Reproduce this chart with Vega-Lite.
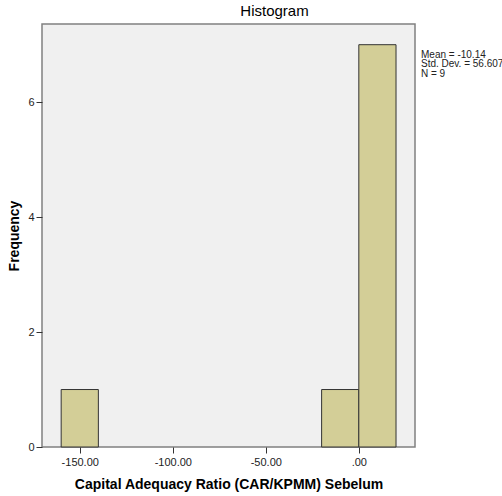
{
  "$schema": "https://vega.github.io/schema/vega-lite/v6.json",
  "width": 373,
  "height": 423,
  "autosize": {"type": "none"},
  "padding": {"left": 42, "top": 24, "right": 87, "bottom": 49},
  "background": "white",
  "config": {
    "font": "Liberation Sans",
    "view": {"fill": "#F0F0F0", "stroke": "#808080", "strokeWidth": 1.5}
  },
  "title": {
    "text": "Histogram",
    "fontSize": 15,
    "fontWeight": "normal",
    "color": "#000000",
    "anchor": "middle",
    "dx": 46,
    "offset": 5
  },
  "layer": [
    {
      "data": {
        "values": [
          {"bin_start": -160, "bin_end": -140, "count": 1},
          {"bin_start": -20, "bin_end": 0, "count": 1},
          {"bin_start": 0, "bin_end": 20, "count": 7}
        ]
      },
      "mark": {"type": "bar", "fill": "#D3CE97", "stroke": "#333333", "strokeWidth": 1},
      "encoding": {
        "x": {
          "field": "bin_start",
          "type": "quantitative",
          "scale": {"domain": [-170.3, 30.2], "nice": false, "zero": false},
          "axis": {
            "values": [-150, -100, -50, 0],
            "format": ".2f",
            "labelExpr": "replace(replace(datum.label, '\u2212', '-'), /^(-?)0\\./, '$1.')",
            "title": "Capital Adequacy Ratio (CAR/KPMM) Sebelum",
            "titleFontSize": 14,
            "titleFontWeight": "bold",
            "titleColor": "#000000",
            "titlePadding": 10,
            "labelFontSize": 11,
            "labelColor": "#222222",
            "labelPadding": 3,
            "tickColor": "#333333",
            "tickSize": 6,
            "domain": false,
            "grid": false
          }
        },
        "x2": {"field": "bin_end"},
        "y": {
          "field": "count",
          "type": "quantitative",
          "scale": {"domain": [0, 7.36], "nice": false},
          "axis": {
            "values": [0, 2, 4, 6],
            "format": "d",
            "title": "Frequency",
            "titleFontSize": 14,
            "titleFontWeight": "bold",
            "titleColor": "#000000",
            "titlePadding": 6,
            "labelFontSize": 11,
            "labelColor": "#222222",
            "labelPadding": 2,
            "tickColor": "#333333",
            "tickSize": 6,
            "domain": false,
            "grid": false
          }
        },
        "y2": {"datum": 0}
      }
    },
    {
      "data": {"values": [{"label": ["Mean = -10.14", "Std. Dev. = 56.607", "N = 9"]}]},
      "mark": {"type": "text", "align": "left", "baseline": "top", "fontSize": 10, "dx": 6, "dy": 5, "lineHeight": 9.5, "color": "#222222", "clip": false},
      "encoding": {
        "x": {"datum": 30.2, "type": "quantitative"},
        "y": {"datum": 7.0, "type": "quantitative"},
        "text": {"field": "label"}
      }
    }
  ]
}
